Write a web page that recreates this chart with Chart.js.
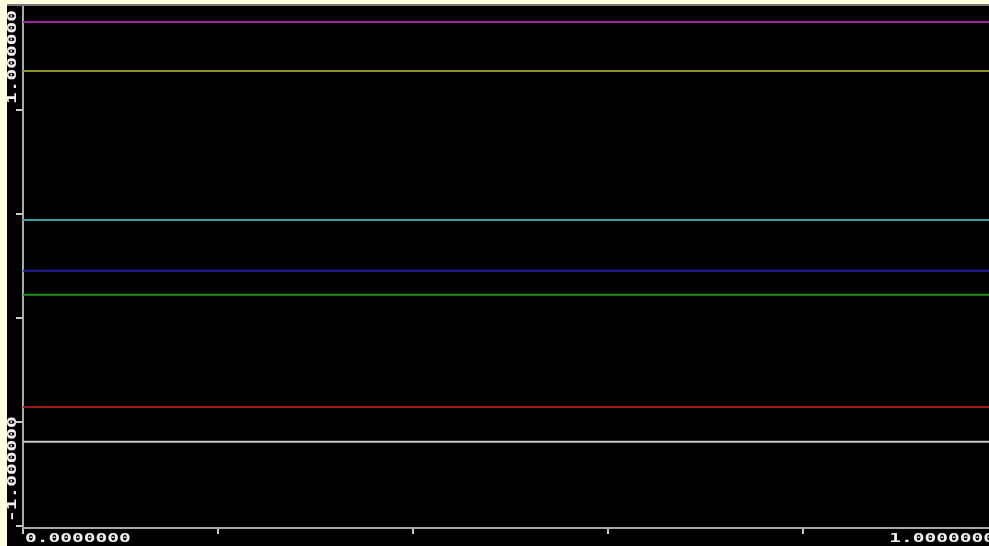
<!DOCTYPE html>
<html>
<head>
<meta charset="utf-8">
<script src="https://cdn.jsdelivr.net/npm/chart.js@4.4.0/dist/chart.umd.min.js"></script>
<style>
  html, body { margin: 0; padding: 0; width: 989px; height: 546px; overflow: hidden; background: #ffffe0; }
  #wrap { position: absolute; left: 7px; top: 4px; width: 994px; height: 540px; border-top: 2px solid #777; background: #000; }
  canvas { display: block; }
</style>
</head>
<body>
<div id="wrap"><canvas id="plot" width="994" height="540"></canvas></div>
<script>
// 각 수평선의 값
const seriesNames = ['magenta', 'olive', 'cyan', 'blue', 'green', 'red', 'white'];
const seriesLevels = [1.423, 1.188, 0.471, 0.227, 0.111, -0.428, -0.595];
const seriesColors = ['#a020a0', '#909020', '#30a0a0', '#2020a0', '#209020', '#a01818', '#c8c8c8'];

// x 구간
const xRange = [0, 1];
const xTickValues = [0, 0.2, 0.4, 0.6, 0.8, 1];
const xLabelValues = [0, 1];
const xTickLabels = ['0.0000000', '1.0000000'];

// y 구간
const yRange = [-1.01, 1.5];
const yTickValues = [-1, -0.5, 0, 0.5, 1];
const yLabelValues = [1, -1];
const yTickLabels = ['1.000000', '-1.000000'];

const datasets = seriesNames.map((name, i) => ({
    label: name,
    data: xRange.map(x => ({ x: x, y: seriesLevels[i] })),
    borderColor: seriesColors[i],
    borderWidth: 2,
    pointRadius: 0
}));

// 늘린 고정폭 글꼴로 축 글자 그리기
const axisText = {
    id: 'axisText',
    afterDraw(chart) {
        const ctx = chart.ctx;
        const x = chart.scales.x;
        const y = chart.scales.y;
        const stretch = 1.5;
        ctx.save();
        ctx.fillStyle = '#f0f0f0';
        ctx.font = 'bold 13px "DejaVu Sans Mono"';

        xTickLabels.forEach((t, i) => {
            const px = x.getPixelForValue(xLabelValues[i]);
            const first = i === 0;
            ctx.save();
            ctx.translate(first ? px + 2 : px - 3, 536);
            ctx.scale(stretch, 1);
            ctx.textAlign = first ? 'left' : 'right';
            ctx.textBaseline = 'alphabetic';
            ctx.fillText(t, 0, 0);
            ctx.restore();
        });

        yTickLabels.forEach((t, i) => {
            const py = y.getPixelForValue(yLabelValues[i]);
            ctx.save();
            ctx.translate(6, py - 6 + (yLabelValues[i] < 0 ? 2 : 0));
            ctx.rotate(-Math.PI / 2);
            ctx.scale(stretch, 1);
            ctx.textAlign = 'left';
            ctx.textBaseline = 'middle';
            ctx.fillText(t, 0, 0);
            ctx.restore();
        });
        ctx.restore();
    }
};

const plot = new Chart(document.getElementById('plot').getContext('2d'), {
    type: 'line',
    data: { datasets: datasets },
    plugins: [axisText],
    options: {
        responsive: false,
        animation: false,
        layout: { padding: { top: 0, right: 3, bottom: 0, left: 0 } },
        plugins: {
            legend: { display: false },
            tooltip: { enabled: false }
        },
        scales: {
            x: {
                type: 'linear',
                min: xRange[0],
                max: xRange[1],
                afterBuildTicks: s => { s.ticks = xTickValues.map(v => ({ value: v })); },
                afterFit: s => { s.height = 18; },
                ticks: { display: false },
                grid: { drawOnChartArea: false, drawTicks: true, tickLength: 6, color: '#c8c8c8', lineWidth: 2 },
                border: { display: true, color: '#a8a8a8', width: 2 }
            },
            y: {
                type: 'linear',
                min: yRange[0],
                max: yRange[1],
                afterBuildTicks: s => { s.ticks = yTickValues.map(v => ({ value: v })); },
                afterFit: s => { s.width = 16; },
                ticks: { display: false },
                grid: { drawOnChartArea: false, drawTicks: true, tickLength: 7, color: '#c8c8c8', lineWidth: 2 },
                border: { display: true, color: '#a8a8a8', width: 2 }
            }
        }
    }
});
</script>
</body>
</html>
